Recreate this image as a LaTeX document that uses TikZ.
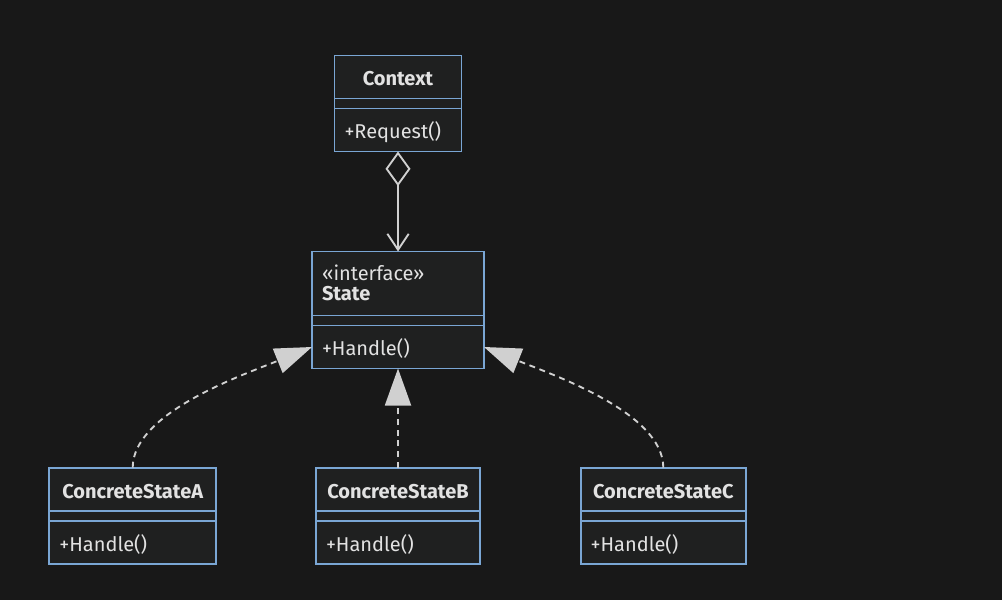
\documentclass[tikz,border=0pt]{standalone}
\usepackage{fontspec}
\setmainfont{Fira Sans}
\usetikzlibrary{arrows.meta,positioning}

\definecolor{bg}{HTML}{181818}
\definecolor{boxfill}{HTML}{1F2020}
\definecolor{boxline}{HTML}{7AA6D4}
\definecolor{ink}{HTML}{E2E2E2}
\definecolor{wire}{HTML}{D0D0D0}

\newcommand\classfont{\fontsize{15}{15}\selectfont}

\tikzset{
  part/.style={draw=boxline, fill=boxfill, line width=1.4pt, outer sep=0pt, text=ink},
  head/.style={part, text width=#1, inner xsep=5pt, minimum height=32.25pt, align=center,
    text height=14pt, text depth=0.5pt, font=\classfont\bfseries},
  gap/.style={part, minimum width=#1, minimum height=7.5pt, inner sep=0pt},
  body/.style={part, text width=#1, inner xsep=7.5pt, minimum height=32.25pt, align=left,
    text height=14pt, text depth=0.5pt, font=\classfont},
  realize/.style={color=wire, line width=1.4pt, dash pattern=on 4.5pt off 3.5pt,
    -{Triangle[length=27.75pt,width=19.5pt]}},
  aggr/.style={color=wire, line width=1.4pt,
    {Diamond[open,length=26pt,width=18.75pt]}-{Straight Barb[length=12pt,width=16pt]}}
}

\begin{document}
\begin{tikzpicture}[x=0.75pt,y=0.75pt]
  \fill[bg] (0,0) rectangle (1002,600);

  % context
  \node[head=85.25pt] (ctx_h) at (398,523) {Context};
  \node[gap=95.25pt] (ctx_g) [below=0pt of ctx_h] {};
  \node[body=80.25pt] (ctx_b) [below=0pt of ctx_g] {+Request()};

  % state interface
  \node[head=114pt, inner xsep=7.5pt, minimum height=48pt, align=left, font=\classfont,
    text height=11pt, text depth=15.5pt] (st_h) at (398,316.5) {«interface»\\\textbf{State}};
  \node[gap=129pt] (st_g) [below=0pt of st_h] {};
  \node[body=114pt] (st_b) [below=0pt of st_g] {+Handle()};

  % concrete states
  \node[head=115pt] (csa_h) at (132.7,110.8) {ConcreteStateA};
  \node[gap=125pt] (csa_g) [below=0pt of csa_h] {};
  \node[body=110pt] (csa_b) [below=0pt of csa_g] {+Handle()};

  \node[head=113pt] (csb_h) at (398,110.8) {ConcreteStateB};
  \node[gap=123pt] (csb_g) [below=0pt of csb_h] {};
  \node[body=108pt] (csb_b) [below=0pt of csb_g] {+Handle()};

  \node[head=114pt] (csc_h) at (663.3,110.8) {ConcreteStateC};
  \node[gap=124pt] (csc_g) [below=0pt of csc_h] {};
  \node[body=109pt] (csc_b) [below=0pt of csc_g] {+Handle()};

  \path[aggr] (ctx_b.south) edge (st_h.north);
  \path[realize]
    (csa_h.north) edge[out=90, in=202, out distance=41pt, in distance=57pt] (st_b.west)
    (csb_h.north) edge (st_b.south)
    (csc_h.north) edge[out=90, in=-22, out distance=41pt, in distance=57pt] (st_b.east);
\end{tikzpicture}
\end{document}
